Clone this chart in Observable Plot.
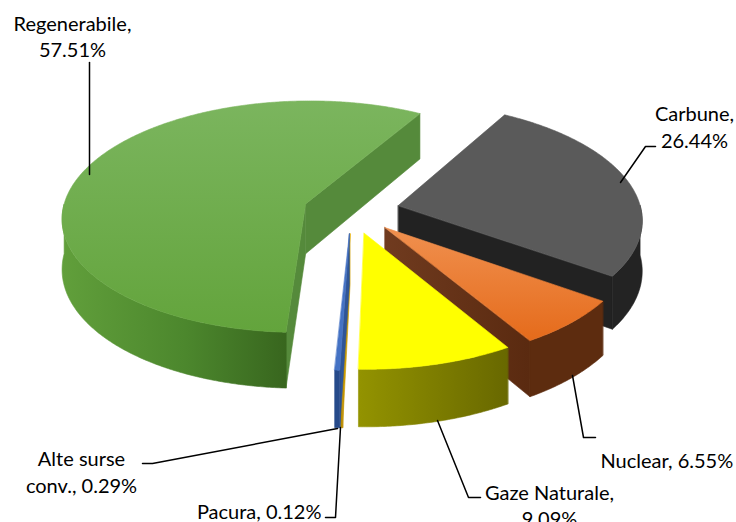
<!DOCTYPE html>
<html><head><meta charset="utf-8">
<script src="https://cdn.jsdelivr.net/npm/d3@7"></script>
<script src="https://cdn.jsdelivr.net/npm/@observablehq/plot@0.6"></script>
<style>html,body{margin:0;padding:0;background:#fff;}</style>
</head><body><div id="chart"></div>
<script>
// ---- data ----
const categories = ["Carbune", "Nuclear", "Gaze Naturale", "Pacura", "Alte surse conv.", "Regenerabile"];
const shares = [26.44, 6.55, 9.09, 0.12, 0.29, 57.51];
const labelTexts = ["Carbune,\n26.44%", "Nuclear, 6.55%", "Gaze Naturale,\n9.09%", "Pacura, 0.12%", "Alte surse\nconv., 0.29%", "Regenerabile,\n57.51%"];

// ---- styles ----
const faceFills = {
  "Carbune":          {top: "#5a5a5a", side: "#232323", cut: "#222222"},
  "Nuclear":          {top: "url(#gTopOrange)", side: "#5d2c0f", cut: "url(#gCutOrange)"},
  "Gaze Naturale":    {top: "#ffff00", side: "url(#gSideYellow)", cut: "#8a8a00"},
  "Pacura":           {top: "#ffc000", side: "#b88a00", cut: "#c99a00"},
  "Alte surse conv.": {top: "#4472c4", side: "#264a8a", cut: "#2f5597"},
  "Regenerabile":     {top: "url(#gTopGreen)", side: "url(#gSideGreen)", cut: "#558a3b"}
};
const gradients = [
  {id: "gTopGreen", dir: "v", stops: [["0", "#7bb55e"], ["1", "#63a43c"]]},
  {id: "gSideGreen", dir: "h", stops: [["0", "#619f3b"], ["0.55", "#4c872d"], ["1", "#38661e"]]},
  {id: "gTopOrange", dir: "v", stops: [["0", "#f0904f"], ["1", "#e56b1b"]]},
  {id: "gCutOrange", dir: "h", stops: [["0", "#703b1f"], ["1", "#5a2a10"]]},
  {id: "gSideYellow", dir: "h", stops: [["0", "#939300"], ["1", "#686800"]]}
];

// ---- view (3D projection) ----
const W = 736, H = 522;
const view = {cx: 351, cy: 210, B: 243, A: 115.8, persp: 0.11, explode: 0.198, depth: 50, start: 30};
const rad = d => d * Math.PI / 180;
function project(u, v, down) {
  const w = 1 - view.persp * v;
  return {x: view.cx + view.B * u / w, y: view.cy + (view.A * v + (down ? view.depth : 0)) / w};
}
const total = d3.sum(shares);
let acc = view.start;
const slices = categories.map((c, i) => {
  const a0 = acc, a1 = acc + shares[i] / total * 360; acc = a1;
  const m = (a0 + a1) / 2;
  return {c, i, a0, a1, uc: view.explode * Math.sin(rad(m)), vc: -view.explode * Math.cos(rad(m))};
});
const rim = (s, a, down) => project(s.uc + Math.sin(rad(a)), s.vc - Math.cos(rad(a)), down);
const apex = (s, down) => project(s.uc, s.vc, down);
function arc(s, from, to, down) {
  const n = Math.max(2, Math.ceil(Math.abs(to - from) / 0.5));
  return d3.range(n + 1).map(k => rim(s, from + (to - from) * k / n, down));
}

const faces = [];
const drawOrder = ["Carbune", "Regenerabile", "Nuclear", "Gaze Naturale", "Pacura", "Alte surse conv."];
for (const name of drawOrder) {
  const s = slices[categories.indexOf(name)];
  const f = faceFills[name];
  // cut faces
  if (Math.sin(rad(s.a0)) < 0) faces.push({fill: f.cut, pts: [apex(s, false), rim(s, s.a0, false), rim(s, s.a0, true), apex(s, true)]});
  if (Math.sin(rad(s.a1)) > 0) faces.push({fill: f.cut, pts: [apex(s, false), rim(s, s.a1, false), rim(s, s.a1, true), apex(s, true)]});
  // outer side (front half)
  const f0 = Math.max(s.a0, 90), f1 = Math.min(s.a1, 270);
  if (f1 > f0) faces.push({fill: f.side, pts: [...arc(s, f0, f1, false), ...arc(s, f0, f1, true).reverse()]});
  // top
  faces.push({fill: f.top, pts: [apex(s, false), ...arc(s, s.a0, s.a1, false)]});
}

// ---- labels layout ----
const labelPos = [
  {x: 694, y: 125.5, anchor: "middle"},
  {x: 600, y: 459, anchor: "start"},
  {x: 549, y: 504, anchor: "middle"},
  {x: 321, y: 510, anchor: "end"},
  {x: 81, y: 470.5, anchor: "middle"},
  {x: 72, y: 35, anchor: "middle"}
];
const labelRows = labelTexts.map((t, i) => ({text: t, ...labelPos[i]}));
const leaders = [
  [[655, 146], [645, 146], [620, 182]],
  [[572, 375], [583, 437], [595, 437]],
  [[437, 420], [468, 497], [480, 497]],
  [[325, 517], [335, 517], [340, 427]],
  [[142, 463], [152, 463], [337, 428]],
  [[89, 62], [89, 174]]
].flatMap((pts, id) => pts.map(([x, y]) => ({id, x, y})));

const textOpts = {x: "x", y: "y", text: "text", fontSize: 20, fontFamily: "Lato", fill: "#000", lineAnchor: "middle", lineHeight: 1.32};
const svg = Plot.plot({
  width: W, height: H, margin: 0,
  x: {domain: [0, W], range: [0, W], axis: null},
  y: {domain: [0, H], range: [0, H], axis: null},
  style: {background: "#fff", fontFamily: "Lato"},
  marks: [
    ...faces.map(fc => Plot.line(fc.pts, {x: "x", y: "y", fill: fc.fill, stroke: fc.fill, strokeWidth: 0.6, curve: "linear-closed"})),
    Plot.line(leaders, {x: "x", y: "y", z: "id", stroke: "#000", strokeWidth: 1.5, curve: "linear"}),
    Plot.text(labelRows.filter(d => d.anchor === "middle"), {...textOpts, textAnchor: "middle"}),
    Plot.text(labelRows.filter(d => d.anchor === "start"), {...textOpts, textAnchor: "start"}),
    Plot.text(labelRows.filter(d => d.anchor === "end"), {...textOpts, textAnchor: "end"})
  ]
});
const NS = "http://www.w3.org/2000/svg";
const defs = document.createElementNS(NS, "defs");
for (const g of gradients) {
  const lg = document.createElementNS(NS, "linearGradient");
  lg.setAttribute("id", g.id);
  lg.setAttribute("x1", "0"); lg.setAttribute("y1", "0");
  lg.setAttribute("x2", g.dir === "h" ? "1" : "0"); lg.setAttribute("y2", g.dir === "h" ? "0" : "1");
  for (const [o, c] of g.stops) {
    const st = document.createElementNS(NS, "stop");
    st.setAttribute("offset", o); st.setAttribute("stop-color", c);
    lg.appendChild(st);
  }
  defs.appendChild(lg);
}
svg.insertBefore(defs, svg.firstChild);
document.getElementById("chart").appendChild(svg);
</script>
</body></html>
